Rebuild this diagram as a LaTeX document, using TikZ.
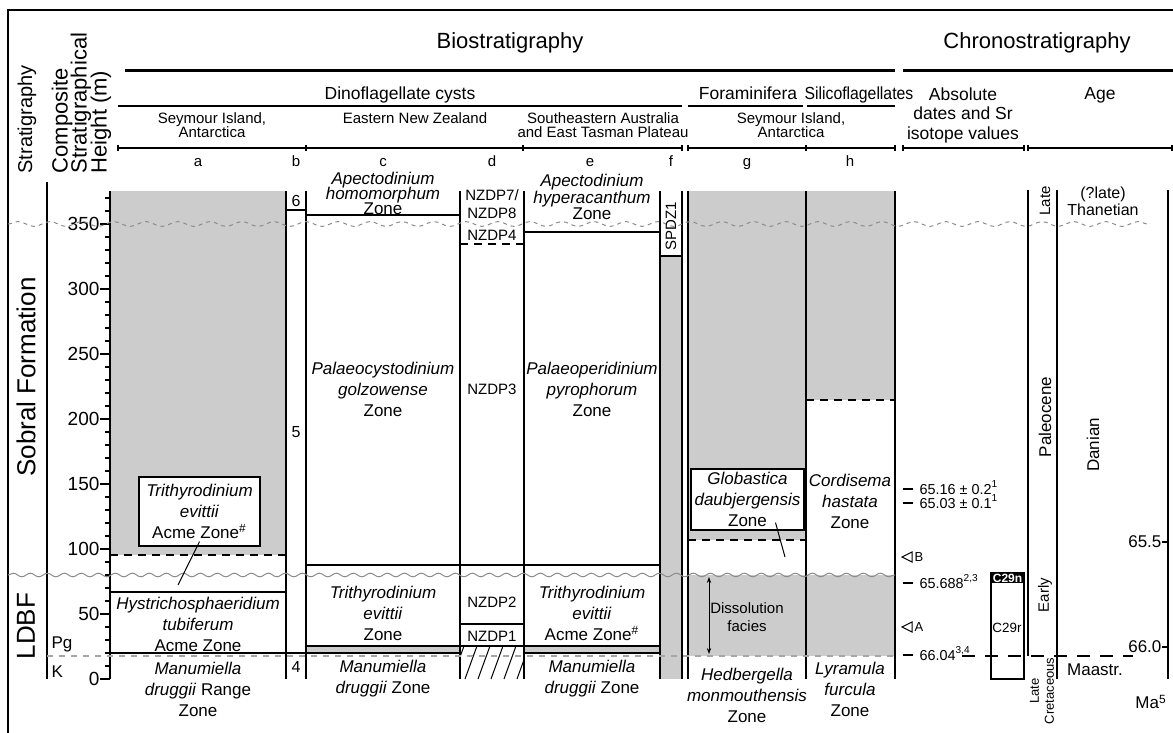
\documentclass[tikz,border=0pt]{standalone}
\usepackage{fontspec}
\setmainfont{Liberation Sans}
\usepackage{graphicx}
\usetikzlibrary{arrows.meta, decorations.pathmorphing, calc}
\definecolor{zonegray}{RGB}{204,204,204}
\definecolor{wavegray}{RGB}{140,140,140}
\definecolor{kpggray}{RGB}{165,165,165}
\newcommand{\hm}[1]{679-1.3*(#1)}
\lineskiplimit=-20pt

\begin{document}
\begin{tikzpicture}[x=0.5pt, y=-0.5pt, line width=0.6pt,
  mainhead/.style={inner sep=0pt, anchor=base, font=\fontsize{11}{13}\selectfont},
  rothead/.style={inner sep=0pt, rotate=90, anchor=west, font=\fontsize{11}{13}\selectfont},
  grouphead/.style={inner sep=0pt, align=center, font=\fontsize{8.75}{9.75}\selectfont},
  sitehead/.style={inner sep=0pt, align=center, font=\fontsize{7.5}{6.75}\selectfont},
  zonetxt/.style={inner sep=0pt, align=center, font=\fontsize{8.5}{10.5}\selectfont},
  zonebox/.style={zonetxt, draw, fill=white},
  smalltxt/.style={inner sep=0pt, align=center, font=\fontsize{7.5}{9}\selectfont},
  agetxt/.style={inner sep=0pt, align=center, font=\fontsize{8.5}{8.5}\selectfont},
  blackdash/.style={dash pattern=on 4pt off 3pt},
  kpgdash/.style={kpggray, dash pattern=on 3pt off 3pt}]
  \useasboundingbox (0,0) rectangle (1173,733);
  \def\ztop{191}
  \def\zbot{679}

  % Frame and main headings
  \draw[line width=0.7pt] (8,733) -- (8,10) -- (1173,10);
  \node[mainhead] (bio) at (510,49) {Biostratigraphy};
  \node[mainhead] (chrono) at (1037,49) {Chronostratigraphy};
  \draw[line width=1.5pt] (125,71) -- (895,71);
  \draw[line width=1.5pt] (903,71) -- (1173,71);
  \node[rothead, font=\fontsize{10}{12}\selectfont] (strat) at (27,174) {Stratigraphy};
  \node[rothead] (comp1) at (62,174) {Composite};
  \node[rothead] (comp2) at (81,174) {Stratigraphical};
  \node[rothead] (comp3) at (101,174) {Height (m)};

  % Group headings
  \node[grouphead, anchor=base] (dino) at (400,100) {Dinoflagellate cysts};
  \node[grouphead, anchor=base] (foram) at (748,100) {Foraminifera};
  \node[grouphead, anchor=base] (silico) at (859,100) {\scalebox{0.9}[1]{Silicoflagellates}};
  \node[grouphead] (absdate) at (963,115) {Absolute\\dates and Sr\\isotope values};
  \node[grouphead, anchor=base] (age) at (1100,100) {Age};
  \draw (118,106) -- (682,106);
  \draw (688,106) -- (803,106);
  \draw (807,106) -- (895,106);

  % Site headings
  \node[sitehead] (seyA) at (212,125) {Seymour Island,\\Antarctica};
  \node[sitehead, anchor=base] (nzhead) at (415,124) {Eastern New Zealand};
  \node[sitehead] (aushead) at (603,125) {Southeastern Australia\\and East Tasman Plateau};
  \node[sitehead] (seyG) at (791,125) {Seymour Island,\\Antarctica};
  \foreach \xl/\xr in {118/682, 688/895, 903/1024, 1028/1172}
    \draw (\xl,148) -- (\xr,148);
  \foreach \x in {118,306,523,682,688,806,895,903,1024,1028,1172}
    \draw (\x,145) -- (\x,151);
  \foreach \x/\l in {198/a, 296/b, 383/c, 492/d, 590/e, 671/f, 747/g, 850/h}
    \node[sitehead, anchor=base] (lbl\l) at (\x,167) {\l};

  % Shaded intervals
  \fill[zonegray] (110,\ztop) rectangle (286,555);
  \fill[zonegray] (660,256) rectangle (682,\zbot);
  \fill[zonegray] (688,\ztop) rectangle (806,540);
  \fill[zonegray] (688,575) rectangle (895,656);
  \fill[zonegray] (806,\ztop) rectangle (895,400);
  \fill[zonegray] (306,646) rectangle (460,653);
  \fill[zonegray] (524,646) rectangle (660,653);

  % Height axis
  \draw (47,182) -- (47,\zbot);
  \draw (110,\ztop) -- (110,\zbot);
  \foreach \m in {0,10,...,370}
    \draw (105,{\hm{\m}}) -- (110,{\hm{\m}});
  \foreach \m in {0,50,...,350} {
    \draw (100,{\hm{\m}}) -- (110,{\hm{\m}});
    \node[inner sep=0pt, anchor=east, font=\fontsize{9.5}{11}\selectfont] (h\m) at (100,{\hm{\m}}) {\m};
  }
  \node[inner sep=0pt, anchor=base west, font=\fontsize{8.5}{10}\selectfont] (pg) at (51,648) {Pg};
  \node[inner sep=0pt, anchor=base west, font=\fontsize{8.5}{10}\selectfont] (kk) at (51,677) {K};
  \node[inner sep=0pt, rotate=90, font=\fontsize{13}{15}\selectfont] (sobral) at (26,377) {Sobral Formation};
  \node[inner sep=0pt, rotate=90, font=\fontsize{13}{15}\selectfont] (ldbf) at (26,626) {LDBF};

  % Column borders
  \foreach \x in {286,306,460,524,660,682,688,806,895}
    \draw (\x,\ztop) -- (\x,\zbot);

  % Zone boundaries
  \draw (286,210) -- (306,210);
  \draw (286,653) -- (306,653);
  \draw (306,215) -- (460,215);
  \draw (524,232) -- (660,232);
  \draw (660,256) -- (682,256);
  \draw (306,565) -- (660,565);
  \draw (110,592) -- (286,592);
  \draw (110,653) -- (286,653);
  \draw (460,624) -- (524,624);
  \draw (306,646) -- (660,646);
  \draw (306,653) -- (460,653);
  \draw (524,653) -- (660,653);
  \draw[blackdash] (460,244) -- (524,244);
  \draw[blackdash] (110,555) -- (286,555);
  \draw[blackdash] (688,540) -- (806,540);
  \draw[blackdash] (806,400) -- (895,400);
  \begin{scope}
    \clip (460,646) rectangle (524,\zbot);
    \foreach \i in {0,...,5}
      \draw[line width=0.5pt] (452+13*\i,\zbot) -- ++(12,-33);
  \end{scope}

  % Unconformities and K/Pg boundary
  \draw[wavegray, line width=0.5pt, decorate,
        decoration={snake, segment length=8.5pt, amplitude=0.9pt}] (8,575) -- (895,575);
  \draw[wavegray, line width=0.5pt, dash pattern=on 2pt off 2pt, decorate,
        decoration={snake, segment length=16pt, amplitude=1.2pt}] (8,224) -- (1148,224);
  \draw[kpgdash] (47,656) -- (895,656);
  \draw[dash pattern=on 6.5pt off 5pt] (962,656) -- (1133,656);

  % Column a, b
  \node[zonetxt] (hyst) at (198,624) {\textit{Hystrichosphaeridium}\\\textit{tubiferum}\\Acme Zone};
  \node[zonetxt] (manA) at (198,689) {\textit{Manumiella}\\\textit{druggii} Range\\Zone};
  \node[zonebox, minimum width=60.5pt, minimum height=34.5pt] (trevA) at (199.5,511.5)
    {\textit{Trithyrodinium}\\\textit{evittii}\\Acme Zone\textsuperscript{\#}};
  \coordinate (trevAtip) at (178,585);
  \draw[line width=0.5pt] ($(trevA.south)+(0,-5)$) -- (trevAtip);
  \foreach \y/\n in {201/6, 432/5, 667/4}
    \node[inner sep=0pt, font=\fontsize{8}{9}\selectfont] (zb\n) at (296,\y) {\n};

  % Column c, d, e, f
  \node[zonetxt, font=\fontsize{8.5}{7.5}\selectfont] (apeHom) at (383,193) {\textit{Apectodinium}\\\textit{homomorphum}\\Zone};
  \node[zonetxt] (palGol) at (383,389) {\textit{Palaeocystodinium}\\\textit{golzowense}\\Zone};
  \node[zonetxt] (trevC) at (383,613) {\textit{Trithyrodinium}\\\textit{evittii}\\Zone};
  \node[zonetxt] (manC) at (383,679) {\textit{Manumiella}\\\textit{druggii} Zone};
  \node[smalltxt] (nz78) at (492,204) {NZDP7/\\NZDP8};
  \node[smalltxt] (nz4) at (492,235) {NZDP4};
  \node[smalltxt] (nz3) at (492,389) {NZDP3};
  \node[smalltxt] (nz2) at (492,602) {NZDP2};
  \node[smalltxt] (nz1) at (492,636) {NZDP1};
  \node[zonetxt, font=\fontsize{8.5}{8.25}\selectfont] (apeHyp) at (592,197) {\textit{Apectodinium}\\\textit{hyperacanthum}\\Zone};
  \node[zonetxt] (palPyr) at (592,389) {\textit{Palaeoperidinium}\\\textit{pyrophorum}\\Zone};
  \node[zonetxt] (trevE) at (592,613) {\textit{Trithyrodinium}\\\textit{evittii}\\Acme Zone\textsuperscript{\#}};
  \node[zonetxt] (manE) at (592,679) {\textit{Manumiella}\\\textit{druggii} Zone};
  \node[smalltxt, rotate=90] (spdz) at (671,226) {SPDZ1};

  % Column g, h
  \node[zonebox, minimum width=56.5pt, minimum height=30.5pt] (glob) at (747.5,499.5)
    {\textit{Globastica}\\\textit{daubjergensis}\\Zone};
  \coordinate (globtip) at (785,557);
  \draw[line width=0.5pt] ($(glob.south)+(28,-8)$) -- (globtip);
  \node[smalltxt] (diss) at (747,617) {Dissolution\\facies};
  \coordinate (dissTop) at (709,577);
  \coordinate (dissBot) at (709,654);
  \draw[line width=0.4pt, {Stealth[length=3pt,width=2.2pt]}-{Stealth[length=3pt,width=2.2pt]}] (dissTop) -- (dissBot);
  \node[zonetxt] (hedb) at (747,695) {\textit{Hedbergella}\\\textit{monmouthensis}\\Zone};
  \node[zonetxt] (cord) at (850,501) {\textit{Cordisema}\\\textit{hastata}\\Zone};
  \node[zonetxt] (lyra) at (850,689) {\textit{Lyramula}\\\textit{furcula}\\Zone};

  % Absolute dates
  \foreach \y/\lbl/\nm in {489/{65.16 ± 0.2\textsuperscript{1}}/d1, 503/{65.03 ± 0.1\textsuperscript{1}}/d2,
                           583/{65.688\textsuperscript{2,3}}/d3, 655/{66.04\textsuperscript{3,4}}/d4} {
    \draw[line width=1.3pt] (903,\y) -- (913,\y);
    \node[inner sep=0pt, anchor=base west, font=\fontsize{7.2}{8}\selectfont] (\nm) at (919,\y+5) {\lbl};
  }
  \foreach \y/\l in {557/B, 627/A} {
    \draw[line width=0.5pt] (912,\y-5) -- (902,\y) -- (912,\y+5) -- cycle;
    \node[inner sep=0pt, anchor=west, font=\fontsize{6.5}{8}\selectfont] (tri\l) at (914,\y) {\l};
  }

  % Magnetochrons
  \draw (991,573) rectangle (1024,\zbot);
  \fill (991,573) rectangle (1024,583);
  \node[inner sep=0pt, text=white, font=\bfseries\fontsize{6}{6}\selectfont] (c29n) at (1007.5,578) {C29n};
  \node[inner sep=0pt, font=\fontsize{6.7}{8}\selectfont] (c29r) at (1007,628) {C29r};

  % Epochs and stages
  \draw (1028,190) -- (1028,656);
  \draw (1057,190) -- (1057,\zbot);
  \draw (1168,190) -- (1168,\zbot);
  \node[inner sep=0pt, rotate=90, font=\fontsize{7.5}{8.5}\selectfont] (lateP) at (1045,201) {Late};
  \node[agetxt, rotate=90] (paleo) at (1045,417) {Paleocene};
  \node[inner sep=0pt, rotate=90, font=\fontsize{7.5}{8.5}\selectfont] (early) at (1045,595) {Early};
  \node[inner sep=0pt, rotate=90, align=center, font=\fontsize{6.5}{7.5}\selectfont] (lateK) at (1042,691) {Late\\Cretaceous};
  \node[agetxt, font=\fontsize{8}{8.5}\selectfont] (than) at (1103,201) {(?late)\\Thanetian};
  \node[agetxt, rotate=90] (danian) at (1093,445) {Danian};
  \node[agetxt] (maastr) at (1095,670) {Maastr.};
  \foreach \y/\ma in {542/65.5, 647/66.0} {
    \draw (1162,\y) -- (1168,\y);
    \node[agetxt, anchor=east] (ma\y) at (1162,\y) {\ma};
  }
  \node[agetxt] (maunit) at (1151,702) {Ma\textsuperscript{5}};
\end{tikzpicture}
\end{document}
